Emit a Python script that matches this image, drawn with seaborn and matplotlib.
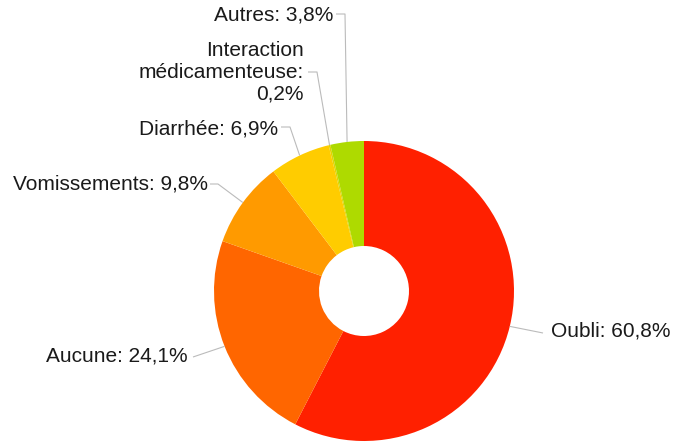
import numpy as np
import matplotlib
matplotlib.use("Agg")
import matplotlib.pyplot as plt
import seaborn as sns

# ---- data ----
categories = ["Oubli", "Aucune", "Vomissements", "Diarrhée",
              "Interaction médicamenteuse", "Autres"]
values = [60.8, 24.1, 9.8, 6.9, 0.2, 3.8]
label_texts = ["Oubli: 60,8%", "Aucune: 24,1%", "Vomissements: 9,8%",
               "Diarrhée: 6,9%", "Interaction\nmédicamenteuse:\n0,2%",
               "Autres: 3,8%"]
colors = ["#FF2000", "#FF6600", "#FF9A00", "#FFCC00", "#E2D400", "#AEDA00"]

# ---- layout (pixel coords, y downward) ----
W, H = 676, 443
CX, CY, R, HOLE = 364, 291, 150, 45
# elbow point, end of horizontal segment, text anchor (x, y, ha)
layout = [
    ((543, 333), (543, 333), (551, 331, "left")),
    ((193, 357), (193, 357), (188, 356, "right")),
    ((218, 184), (210, 184), (208, 184, "right")),
    ((290, 127), (281, 127), (278, 129, "right")),
    ((317, 72), (308, 72), (304, 72, "right")),
    ((345, 14), (336, 14), (333, 15, "right")),
]

sns.set_theme(style="white")
plt.rcParams["font.family"] = ["Liberation Sans", "DejaVu Sans"]

fig = plt.figure(figsize=(W / 100, H / 100), dpi=100)
ax = fig.add_axes([0, 0, 1, 1])

pal = sns.color_palette(colors)
wedges, _ = ax.pie(values, colors=pal, startangle=90, counterclock=False,
                   center=(CX, H - CY), radius=R,
                   wedgeprops=dict(width=R - HOLE, linewidth=0))

for w, (elbow, hend, (tx, ty, ha)), txt in zip(wedges, layout, label_texts):
    ang = np.deg2rad((w.theta1 + w.theta2) / 2)
    sx = CX + R * np.cos(ang)
    sy = (H - CY) + R * np.sin(ang)
    ax.plot([sx, elbow[0], hend[0]], [sy, H - elbow[1], H - hend[1]],
            color="#BBBBBB", lw=0.8, zorder=1, solid_capstyle="butt")
    ax.text(tx, H - ty, txt, ha=ha, va="center", fontsize=15,
            color="#1a1a1a", multialignment="right", linespacing=1.2)

ax.set_xlim(0, W)
ax.set_ylim(0, H)
ax.set_aspect("auto")
ax.axis("off")
fig.savefig("out.png", dpi=100)
